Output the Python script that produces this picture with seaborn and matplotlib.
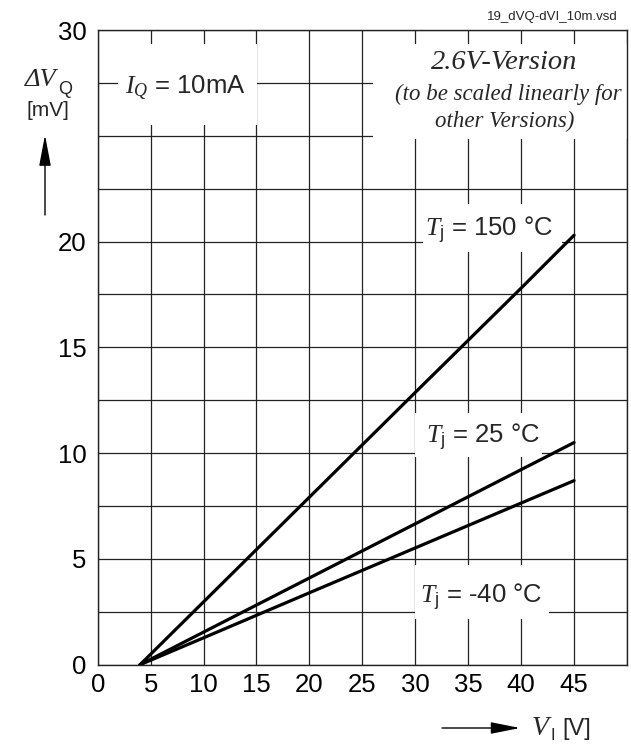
import pandas as pd
import seaborn as sns
import numpy as np
import matplotlib.pyplot as plt
from matplotlib.patches import Rectangle

# values
vi = [4, 10, 20, 30, 40, 45]
dvq_150 = [0, 2.97, 7.92, 12.87, 17.8, 20.3]
dvq_25 = [0, 1.54, 4.10, 6.66, 9.22, 10.5]
dvq_m40 = [0, 1.27, 3.40, 5.52, 7.64, 8.7]
temps = ["150", "25", "-40"]

xticks = [0, 5, 10, 15, 20, 25, 30, 35, 40, 45, 50]
xticklabels = ["0", "5", "10", "15", "20", "25", "30", "35", "40", "45", ""]
yticks = [0, 5, 10, 15, 20, 30]
yminor = [2.5, 7.5, 12.5, 17.5, 22.5, 25, 27.5]

df = pd.concat([
    pd.DataFrame({"vi": vi, "dvq": dvq_150, "tj": temps[0]}),
    pd.DataFrame({"vi": vi, "dvq": dvq_25, "tj": temps[1]}),
    pd.DataFrame({"vi": vi, "dvq": dvq_m40, "tj": temps[2]}),
])

sns.set_style("white")
plt.rcParams["font.family"] = ["Liberation Sans", "DejaVu Sans"]
plt.rcParams["mathtext.fontset"] = "custom"
plt.rcParams["mathtext.it"] = "Liberation Serif:italic"
plt.rcParams["mathtext.rm"] = "Liberation Sans"
plt.rcParams["mathtext.sf"] = "Liberation Sans"

W, H = 631, 747
fig = plt.figure(figsize=(W / 100, H / 100), dpi=100)
ax = fig.add_axes([97.7 / W, (H - 664.7) / H, 529.3 / W, 634.7 / H])

sns.lineplot(data=df, x="vi", y="dvq", hue="tj", palette=["black"] * 3,
             legend=False, lw=2.3, ax=ax, zorder=3)

ax.set_xlim(0, 50)
ax.set_ylim(0, 30)
ax.set_xticks(xticks)
ax.set_xticklabels(xticklabels)
ax.set_yticks(yticks)
ax.set_yticks(yminor, minor=True)
ax.tick_params(axis="both", which="both", length=0, labelsize=18.5, colors="black")
ax.tick_params(axis="x", pad=6)
ax.tick_params(axis="y", pad=8)
ax.set_axisbelow(True)
ax.grid(True, which="both", color="#222222", lw=0.9)
for s in ax.spines.values():
    s.set_color("#222222")
    s.set_linewidth(1.0)
    s.set_zorder(4)
ax.set_xlabel("")
ax.set_ylabel("")

# white label boxes covering the grid
boxes = [
    (1.93, 25.5, 13.14, 3.83),
    (26.05, 24.85, 23.95, 4.48),
    (30.75, 19.5, 13.1, 2.26),
    (30.02, 9.8, 11.95, 2.09),
    (30.02, 2.16, 12.58, 2.55),
]
for x0, y0, w, h in boxes:
    ax.add_patch(Rectangle((x0, y0), w, h, facecolor="white", edgecolor="none", zorder=1.5))

lab = 18.5
ax.text(2.58, 27.02, r"$I_Q$ = 10mA", fontsize=lab, va="baseline", ha="left", zorder=5)
ax.text(38.43, 28.15, "2.6V-Version", family="Liberation Serif", style="italic",
        fontsize=20.5, ha="center", va="baseline", zorder=5)
ax.text(38.76, 26.7, "(to be scaled linearly for", family="Liberation Serif", style="italic",
        fontsize=16.5, ha="center", va="baseline", zorder=5)
ax.text(38.45, 25.41, "other Versions)", family="Liberation Serif", style="italic",
        fontsize=16.5, ha="center", va="baseline", zorder=5)
ax.text(30.9, 20.24, r"$T_\mathrm{j}$ = 150 °C", fontsize=lab, va="baseline", ha="left", zorder=5)
ax.text(30.97, 10.48, r"$T_\mathrm{j}$ = 25 °C", fontsize=lab, va="baseline", ha="left", zorder=5)
ax.text(30.44, 2.88, r"$T_\mathrm{j}$ = -40 °C", fontsize=lab, va="baseline", ha="left", zorder=5)

# axis labels with arrows
fig.text(25 / W, 1 - 86 / H, "ΔV", family="Liberation Serif", style="italic",
         fontsize=19, ha="left", va="baseline")
fig.text(58 / W, 1 - 94 / H, "Q", fontsize=13, ha="left", va="baseline")
fig.text(26 / W, 1 - 111 / H, "[mV]", fontsize=15, ha="left", va="center")
ax.annotate("", xy=(45 / W, 1 - 135 / H), xytext=(45 / W, 1 - 215 / H),
            xycoords="figure fraction", textcoords="figure fraction",
            arrowprops=dict(arrowstyle="-|>,head_length=0.95,head_width=0.18",
                            mutation_scale=20, color="black", lw=1.0,
                            shrinkA=0, shrinkB=0))
ax.annotate("", xy=(520 / W, 1 - 728 / H), xytext=(442 / W, 1 - 728 / H),
            xycoords="figure fraction", textcoords="figure fraction",
            arrowprops=dict(arrowstyle="-|>,head_length=0.9,head_width=0.18",
                            mutation_scale=20, color="black", lw=1.0,
                            shrinkA=0, shrinkB=0))
fig.text(532 / W, 1 - 735 / H, "V", family="Liberation Serif", style="italic",
         fontsize=20, ha="left", va="baseline")
fig.text(551 / W, 1 - 740 / H, "I", fontsize=12, ha="left", va="baseline")
fig.text(562 / W, 1 - 735 / H, "[V]", fontsize=17, ha="left", va="baseline")
fig.text(618 / W, 1 - 17 / H, "19_dVQ-dVI_10m.vsd", fontsize=9.5, ha="right", va="center")

fig.savefig("out.png", dpi=100, facecolor="white")
